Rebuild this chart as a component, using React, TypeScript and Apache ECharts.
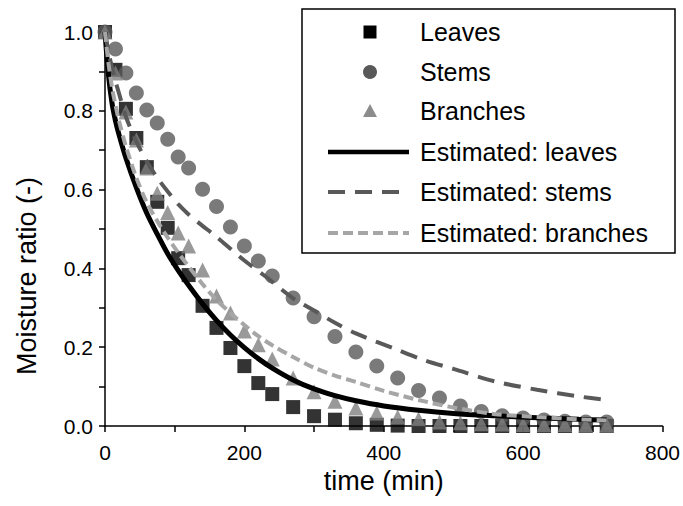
import React, { useEffect, useRef } from "react";
import * as echarts from "echarts";

// Measurement times (min)
const times = [0, 15, 30, 45, 60, 75, 90, 105, 120, 140, 160, 180, 200, 220, 240, 270, 300, 330, 360, 390, 420, 450, 480, 510, 540, 570, 600, 630, 660, 690, 720];
// Measured moisture ratios
const leaves = [1.0, 0.904, 0.805, 0.731, 0.657, 0.569, 0.503, 0.426, 0.383, 0.305, 0.249, 0.198, 0.152, 0.109, 0.081, 0.048, 0.025, 0.016, 0.007, 0.003, 0.001, 0, 0, 0, 0, 0, 0, 0, 0, 0, 0];
const stems = [1.0, 0.957, 0.896, 0.845, 0.802, 0.769, 0.728, 0.683, 0.655, 0.601, 0.557, 0.505, 0.457, 0.419, 0.381, 0.325, 0.277, 0.227, 0.188, 0.152, 0.122, 0.09, 0.071, 0.051, 0.037, 0.026, 0.02, 0.015, 0.012, 0.01, 0.01];
const branches = [1.0, 0.896, 0.797, 0.726, 0.655, 0.591, 0.542, 0.49, 0.457, 0.396, 0.33, 0.287, 0.241, 0.206, 0.17, 0.122, 0.087, 0.063, 0.046, 0.033, 0.023, 0.018, 0.01, 0.008, 0.006, 0.005, 0.004, 0.003, 0.003, 0.002, 0.002];

// Estimated curves
const estLeavesT = [0, 5, 10, 15, 20, 30, 45, 60, 75, 90, 105, 120, 140, 160, 180, 200, 220, 240, 270, 300, 330, 360, 400, 450, 500, 560, 620, 680, 720];
const estLeavesV = [1.0, 0.89, 0.82, 0.775, 0.74, 0.68, 0.605, 0.54, 0.487, 0.437, 0.395, 0.357, 0.31, 0.268, 0.231, 0.199, 0.171, 0.147, 0.117, 0.094, 0.077, 0.064, 0.051, 0.040, 0.032, 0.026, 0.021, 0.017, 0.015];
const estStemsT = [0, 5, 10, 15, 20, 30, 45, 60, 75, 90, 105, 120, 135, 160, 180, 200, 230, 270, 300, 330, 360, 420, 460, 500, 560, 620, 680, 720];
const estStemsV = [1.0, 0.95, 0.91, 0.875, 0.845, 0.785, 0.722, 0.672, 0.63, 0.595, 0.563, 0.537, 0.515, 0.48, 0.45, 0.42, 0.38, 0.324, 0.293, 0.262, 0.235, 0.193, 0.166, 0.145, 0.113, 0.092, 0.075, 0.066];
const estBranchesT = [0, 5, 10, 15, 20, 30, 45, 60, 75, 90, 105, 120, 140, 160, 180, 200, 220, 240, 270, 300, 330, 360, 400, 450, 500, 560, 620, 680, 720];
const estBranchesV = [1.0, 0.92, 0.86, 0.815, 0.775, 0.71, 0.63, 0.567, 0.52, 0.478, 0.44, 0.405, 0.36, 0.32, 0.287, 0.256, 0.228, 0.205, 0.175, 0.148, 0.128, 0.112, 0.089, 0.066, 0.047, 0.03, 0.023, 0.017, 0.014];

const legendNames = ["Leaves", "Stems", "Branches", "Estimated: leaves", "Estimated: stems", "Estimated: branches"];
const xTitle = "time (min)";
const yTitle = "Moisture ratio (-)";

const FONT = "Liberation Sans, Arial, sans-serif";
const C_LEAVES = "#000000";
const C_STEMS = "#595959";
const C_BRANCH = "#808080";
const C_EST_STEMS = "#595959";
const C_EST_BRANCH = "#a6a6a6";

const pair = (t: number[], v: number[]) => t.map((x, i) => [x, v[i]]);

export default function App() {
  const ref = useRef<HTMLDivElement>(null);
  useEffect(() => {
    if (!ref.current) return;
    const chart = echarts.init(ref.current, undefined, { renderer: "svg" });

    const lx = 302, ly = 9, lw = 373, lh = 244;
    const rowY = [32, 72, 111, 152, 192, 233];
    const symX = 370;
    const textX = 420;
    const legendEls: any[] = [
      { type: "rect", shape: { x: lx, y: ly, width: lw, height: lh }, style: { fill: "#fff", stroke: "#000", lineWidth: 1.5 } },
      { type: "rect", shape: { x: symX - 6.5, y: rowY[0] - 6.5, width: 13, height: 13 }, style: { fill: C_LEAVES } },
      { type: "circle", shape: { cx: symX, cy: rowY[1], r: 7 }, style: { fill: C_STEMS } },
      { type: "polygon", shape: { points: [[symX, rowY[2] - 7], [symX + 7, rowY[2] + 6], [symX - 7, rowY[2] + 6]] }, style: { fill: "#8c8c8c" } },
      { type: "line", shape: { x1: 328, y1: rowY[3], x2: 409, y2: rowY[3] }, style: { stroke: C_LEAVES, lineWidth: 4.5 } },
      { type: "line", shape: { x1: 328, y1: rowY[4], x2: 409, y2: rowY[4] }, style: { stroke: C_EST_STEMS, lineWidth: 4, lineDash: [17, 10] } },
      { type: "line", shape: { x1: 328, y1: rowY[5], x2: 409, y2: rowY[5] }, style: { stroke: C_EST_BRANCH, lineWidth: 4, lineDash: [10, 5] } },
      {
        type: "text",
        x: 27,
        y: 276,
        rotation: Math.PI / 2,
        style: { text: yTitle, fill: "#000", font: `27px ${FONT}`, textAlign: "center", textVerticalAlign: "middle" },
      },
    ];
    legendNames.forEach((n, i) => {
      legendEls.push({
        type: "text",
        x: textX,
        y: rowY[i],
        style: { text: n, fill: "#000", font: `25px ${FONT}`, textVerticalAlign: "middle", textAlign: "left" },
      });
    });

    chart.setOption({
      animation: false,
      backgroundColor: "#fff",
      grid: { left: 105, right: 17, top: 32, bottom: 80, containLabel: false },
      xAxis: {
        type: "value",
        min: 0,
        max: 800,
        interval: 200,
        name: xTitle,
        nameLocation: "middle",
        nameGap: 40,
        nameTextStyle: { fontSize: 27, color: "#000", fontFamily: FONT },
        axisLine: { show: true, onZero: false, lineStyle: { color: "#000", width: 1.5 } },
        axisTick: { show: true, length: 6, lineStyle: { color: "#000", width: 1.5 } },
        minorTick: { show: true, splitNumber: 2, length: 6, lineStyle: { color: "#000", width: 1.5 } },
        splitLine: { show: false },
        minorSplitLine: { show: false },
        axisLabel: { fontSize: 21, color: "#000", margin: 16, fontFamily: FONT },
      },
      yAxis: {
        type: "value",
        min: 0,
        max: 1,
        interval: 0.2,
        axisLine: { show: true, lineStyle: { color: "#000", width: 1.5 } },
        axisTick: { show: true, length: 6, lineStyle: { color: "#000", width: 1.5 } },
        minorTick: { show: true, splitNumber: 2, length: 6, lineStyle: { color: "#000", width: 1.5 } },
        splitLine: { show: false },
        minorSplitLine: { show: false },
        axisLabel: { fontSize: 21, color: "#000", margin: 12, fontFamily: FONT, formatter: (v: number) => v.toFixed(1) },
      },
      series: [
        { name: "Leaves", type: "scatter", symbol: "rect", symbolSize: 14, itemStyle: { color: C_LEAVES }, data: pair(times, leaves), z: 2 },
        { name: "Stems", type: "scatter", symbol: "circle", symbolSize: 15, itemStyle: { color: C_STEMS }, data: pair(times, stems), z: 2 },
        { name: "Branches", type: "scatter", symbol: "triangle", symbolSize: 15, itemStyle: { color: C_BRANCH }, data: pair(times, branches), z: 2 },
        { name: "Estimated: leaves", type: "line", smooth: 0.3, showSymbol: false, lineStyle: { color: C_LEAVES, width: 5 }, data: pair(estLeavesT, estLeavesV), z: 3 },
        { name: "Estimated: stems", type: "line", smooth: 0.3, showSymbol: false, lineStyle: { color: C_EST_STEMS, width: 4, type: [17, 10] }, data: pair(estStemsT, estStemsV), z: 3 },
        { name: "Estimated: branches", type: "line", smooth: 0.3, showSymbol: false, lineStyle: { color: C_EST_BRANCH, width: 4, type: [10, 5] }, data: pair(estBranchesT, estBranchesV), z: 3 },
      ],
      graphic: legendEls,
    });
    return () => chart.dispose();
  }, []);
  return <div ref={ref} style={{ position: "absolute", left: 0, top: 0, width: 683, height: 506 }} />;
}
